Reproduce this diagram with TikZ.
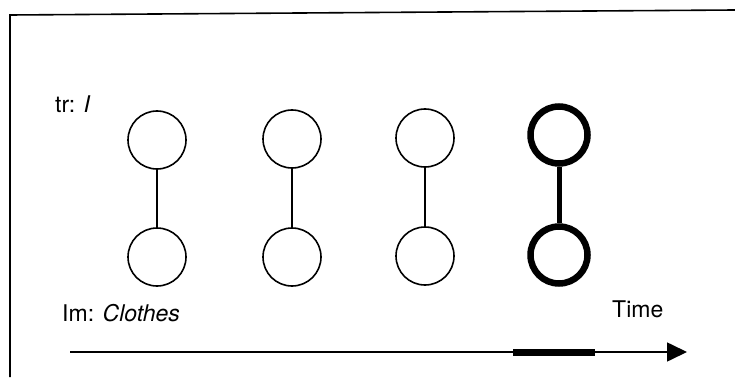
\documentclass[tikz,border=0pt]{standalone}
\usepackage{fontspec}
\setmainfont{TeX Gyre Heros}
\usetikzlibrary{arrows.meta}
\begin{document}
\begin{tikzpicture}[x=1pt,y=-1pt,
  thinball/.style={circle,draw,line width=1.6pt,minimum size=58pt,inner sep=0pt},
  thickball/.style={circle,draw,line width=6.5pt,minimum size=57pt,inner sep=0pt},
  thinlink/.style={line width=1.6pt},
  thicklink/.style={line width=5pt},
  lbl/.style={anchor=base west,inner sep=0pt,font=\fontsize{23}{26}\selectfont}]
\useasboundingbox (0,0) rectangle (735,377);
% frame
\draw[line width=1.6pt] (10,377) -- (10,15) -- (735,10);
% labels
\node[lbl] (tr) at (55,112) {tr: \textit{I}};
\node[lbl] (im) at (62,321) {Im: \textit{Clothes}};
\node[lbl] (time) at (612,317) {Time};
% dumbbells
\node[thinball] (a1) at (157,140) {};
\node[thinball] (a2) at (157,257) {};
\node[thinball] (b1) at (292,139) {};
\node[thinball] (b2) at (292,257) {};
\node[thinball] (c1) at (425,138) {};
\node[thinball] (c2) at (425,256) {};
\node[thickball] (d1) at (559,135) {};
\node[thickball] (d2) at (559,255) {};
\draw[thinlink] (a1) -- (a2);
\draw[thinlink] (b1) -- (b2);
\draw[thinlink] (c1) -- (c2);
\draw[thicklink] (d1) -- (d2);
% time axis
\coordinate (t0) at (70,352);
\coordinate (t1) at (687,352);
\coordinate (h0) at (513,352);
\coordinate (h1) at (595,352);
\draw[line width=1.6pt,-{Triangle[length=20pt,width=19pt]}] (t0) -- (t1);
\draw[line width=7pt] (h0) -- (h1);
\end{tikzpicture}
\end{document}
